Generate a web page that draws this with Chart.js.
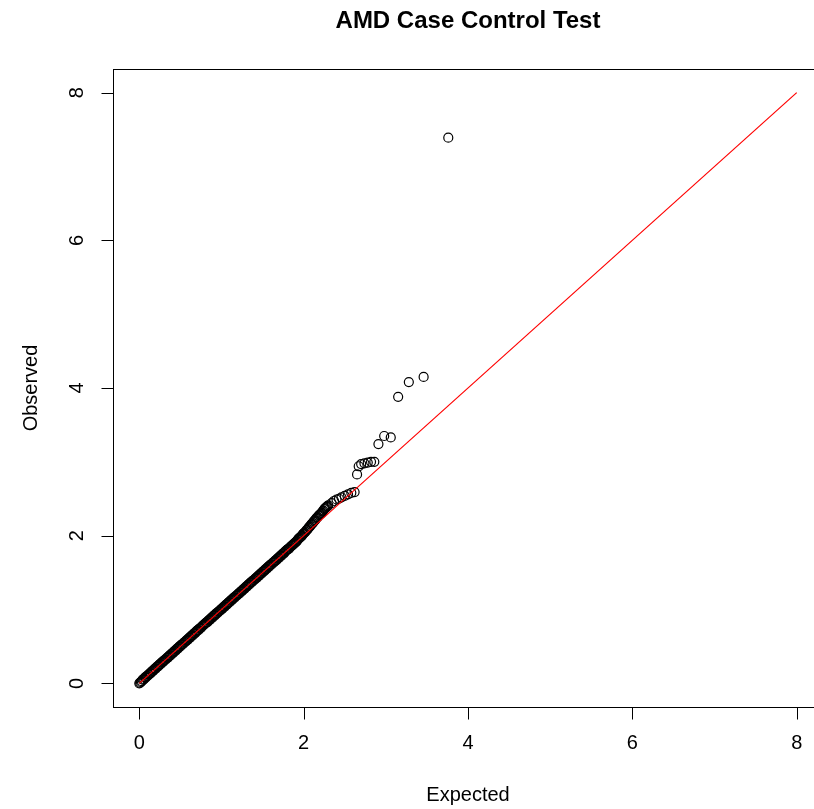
<!DOCTYPE html>
<html>
<head>
<meta charset="utf-8">
<script src="https://cdn.jsdelivr.net/npm/chart.js@4.4.0/dist/chart.umd.min.js"></script>
<style>
  html, body { margin: 0; padding: 0; background: #fff; overflow: hidden; }
  #wrap { width: 824px; height: 809px; }
</style>
</head>
<body>
<div id="wrap"><canvas id="qq" width="824" height="809"></canvas></div>
<script>
// QQ plot values (expected vs observed -log10 p)
const expected = [
  0.00, 0.01, 0.02, 0.03, 0.04, 0.05, 0.06, 0.07, 0.08, 0.09,
  0.10, 0.11, 0.12, 0.13, 0.14, 0.15, 0.16, 0.17, 0.18, 0.19,
  0.20, 0.21, 0.22, 0.23, 0.24, 0.25, 0.26, 0.27, 0.28, 0.29,
  0.30, 0.31, 0.32, 0.33, 0.34, 0.35, 0.36, 0.37, 0.38, 0.39,
  0.40, 0.41, 0.42, 0.43, 0.44, 0.45, 0.46, 0.47, 0.48, 0.49,
  0.50, 0.51, 0.52, 0.53, 0.54, 0.55, 0.56, 0.57, 0.58, 0.59,
  0.60, 0.61, 0.62, 0.63, 0.64, 0.65, 0.66, 0.67, 0.68, 0.69,
  0.70, 0.71, 0.72, 0.73, 0.74, 0.75, 0.76, 0.77, 0.78, 0.79,
  0.80, 0.81, 0.82, 0.83, 0.84, 0.85, 0.86, 0.87, 0.88, 0.89,
  0.90, 0.91, 0.92, 0.93, 0.94, 0.95, 0.96, 0.97, 0.98, 0.99,
  1.00, 1.01, 1.02, 1.03, 1.04, 1.05, 1.06, 1.07, 1.08, 1.09,
  1.10, 1.11, 1.12, 1.13, 1.14, 1.15, 1.16, 1.17, 1.18, 1.19,
  1.20, 1.21, 1.22, 1.23, 1.24, 1.25, 1.26, 1.27, 1.28, 1.29,
  1.30, 1.31, 1.32, 1.33, 1.34, 1.35, 1.36, 1.37, 1.38, 1.39,
  1.40, 1.41, 1.42, 1.43, 1.44, 1.45, 1.46, 1.47, 1.48, 1.49,
  1.50, 1.51, 1.52, 1.53, 1.54, 1.55, 1.56, 1.57, 1.58, 1.59,
  1.60, 1.61, 1.62, 1.63, 1.64, 1.65, 1.66, 1.67, 1.68, 1.69,
  1.70, 1.71, 1.72, 1.73, 1.74, 1.75, 1.76, 1.77, 1.78, 1.79,
  1.80, 1.81, 1.82, 1.83, 1.84, 1.85, 1.86, 1.87, 1.88, 1.89,
  1.90, 1.91, 1.92, 1.93, 1.94, 1.95, 1.96, 1.97, 1.98, 1.99,
  2.00, 2.01, 2.02, 2.03, 2.04, 2.05, 2.06, 2.07, 2.08, 2.09,
  2.10, 2.11, 2.12, 2.13, 2.14, 2.15, 2.16, 2.17, 2.18, 2.19,
  2.20, 2.21, 2.22, 2.23, 2.24, 2.25, 2.26, 2.27, 2.28, 2.29,
  2.30, 2.34, 2.37, 2.40, 2.43, 2.46, 2.50, 2.54, 2.58, 2.62,
  2.65, 2.67, 2.70, 2.74, 2.78, 2.82, 2.86, 2.91, 2.98, 3.06,
  3.15, 3.28, 3.46, 3.76
];
const observed = [
  0.00, 0.01, 0.02, 0.03, 0.05, 0.05, 0.06, 0.08, 0.08, 0.10,
  0.10, 0.12, 0.12, 0.14, 0.14, 0.16, 0.17, 0.17, 0.19, 0.20,
  0.20, 0.22, 0.23, 0.23, 0.25, 0.26, 0.26, 0.28, 0.29, 0.29,
  0.31, 0.32, 0.32, 0.34, 0.35, 0.35, 0.37, 0.38, 0.38, 0.40,
  0.41, 0.41, 0.43, 0.44, 0.44, 0.46, 0.47, 0.47, 0.49, 0.50,
  0.50, 0.52, 0.53, 0.53, 0.55, 0.56, 0.56, 0.58, 0.59, 0.59,
  0.61, 0.62, 0.62, 0.64, 0.65, 0.65, 0.67, 0.68, 0.68, 0.70,
  0.71, 0.72, 0.72, 0.74, 0.75, 0.75, 0.77, 0.78, 0.79, 0.80,
  0.81, 0.82, 0.83, 0.83, 0.85, 0.86, 0.86, 0.88, 0.89, 0.89,
  0.91, 0.92, 0.92, 0.94, 0.95, 0.95, 0.97, 0.98, 0.98, 1.00,
  1.01, 1.01, 1.03, 1.04, 1.04, 1.06, 1.07, 1.07, 1.09, 1.10,
  1.10, 1.12, 1.13, 1.13, 1.15, 1.16, 1.16, 1.18, 1.19, 1.19,
  1.21, 1.22, 1.22, 1.24, 1.25, 1.25, 1.27, 1.28, 1.28, 1.30,
  1.31, 1.31, 1.33, 1.34, 1.34, 1.36, 1.37, 1.37, 1.39, 1.40,
  1.40, 1.42, 1.43, 1.43, 1.45, 1.46, 1.46, 1.48, 1.49, 1.49,
  1.51, 1.52, 1.52, 1.54, 1.55, 1.55, 1.57, 1.58, 1.58, 1.60,
  1.61, 1.61, 1.63, 1.64, 1.64, 1.66, 1.67, 1.67, 1.69, 1.70,
  1.70, 1.72, 1.73, 1.73, 1.75, 1.76, 1.76, 1.78, 1.79, 1.80,
  1.81, 1.82, 1.82, 1.84, 1.85, 1.86, 1.87, 1.88, 1.89, 1.90,
  1.91, 1.92, 1.93, 1.95, 1.96, 1.97, 1.98, 1.99, 2.00, 2.02,
  2.03, 2.04, 2.05, 2.07, 2.08, 2.09, 2.11, 2.12, 2.13, 2.15,
  2.16, 2.17, 2.19, 2.20, 2.21, 2.23, 2.24, 2.25, 2.27, 2.28,
  2.29, 2.30, 2.31, 2.33, 2.34, 2.36, 2.37, 2.38, 2.39, 2.40,
  2.41, 2.44, 2.47, 2.49, 2.50, 2.52, 2.54, 2.56, 2.58, 2.59,
  2.83, 2.94, 2.97, 2.98, 2.99, 3.00, 3.00, 3.24, 3.35, 3.33,
  3.88, 4.08, 4.15, 7.39
];
const tickValues = [0, 2, 4, 6, 8];
const refLine = [0, 8];

const FONT = '"Liberation Sans", Arial, Helvetica, sans-serif';

const rStyleAxes = {
  id: 'rStyleAxes',
  afterDraw(chart) {
    const { ctx, chartArea: a, scales: { x, y } } = chart;
    ctx.save();
    ctx.strokeStyle = '#000';
    ctx.fillStyle = '#000';
    ctx.lineWidth = 1;

    // box
    ctx.strokeRect(Math.round(a.left) + 0.5, Math.round(a.top) + 0.5,
      Math.round(a.right - a.left), Math.round(a.bottom - a.top));

    // x axis
    const xb = Math.round(a.bottom) + 0.5;
    ctx.beginPath();
    ctx.moveTo(x.getPixelForValue(tickValues[0]), xb);
    ctx.lineTo(x.getPixelForValue(tickValues[tickValues.length - 1]), xb);
    tickValues.forEach(v => {
      const px = Math.round(x.getPixelForValue(v)) + 0.5;
      ctx.moveTo(px, xb);
      ctx.lineTo(px, xb + 12);
    });
    ctx.stroke();

    // y axis
    const yl = Math.round(a.left) + 0.5;
    ctx.beginPath();
    ctx.moveTo(yl, y.getPixelForValue(tickValues[0]));
    ctx.lineTo(yl, y.getPixelForValue(tickValues[tickValues.length - 1]));
    tickValues.forEach(v => {
      const py = Math.round(y.getPixelForValue(v)) + 0.5;
      ctx.moveTo(yl, py);
      ctx.lineTo(yl - 12, py);
    });
    ctx.stroke();

    ctx.font = '20px ' + FONT;
    ctx.textAlign = 'center';
    ctx.textBaseline = 'alphabetic';
    tickValues.forEach(v => {
      ctx.fillText(String(v), x.getPixelForValue(v), 749);
    });
    tickValues.forEach(v => {
      ctx.save();
      ctx.translate(83, y.getPixelForValue(v));
      ctx.rotate(-Math.PI / 2);
      ctx.fillText(String(v), 0, 0);
      ctx.restore();
    });

    // axis titles
    const cx = (a.left + a.right) / 2;
    ctx.fillText('Expected', cx, 801);
    ctx.save();
    ctx.translate(37, (a.top + a.bottom) / 2);
    ctx.rotate(-Math.PI / 2);
    ctx.fillText('Observed', 0, 0);
    ctx.restore();

    // main title
    ctx.font = 'bold 24px ' + FONT;
    ctx.fillText('AMD Case Control Test', cx, 28);
    ctx.restore();
  }
};

new Chart(document.getElementById('qq'), {
  type: 'scatter',
  data: {
    datasets: [
      {
        label: 'observed',
        data: expected.map((e, i) => ({ x: e, y: observed[i] })),
        order: 1,
        pointRadius: 4.5,
        pointBorderWidth: 1.2,
        pointBorderColor: '#000',
        pointBackgroundColor: 'rgba(0,0,0,0)',
        showLine: false
      },
      {
        label: 'y = x',
        type: 'line',
        data: refLine.map(v => ({ x: v, y: v })),
        order: 0,
        borderColor: '#ff0000',
        borderWidth: 1.2,
        pointRadius: 0,
        fill: false
      }
    ]
  },
  options: {
    responsive: false,
    animation: false,
    layout: { autoPadding: false, padding: { left: 113, top: 69, right: 1, bottom: 102 } },
    plugins: {
      legend: { display: false },
      tooltip: { enabled: false }
    },
    scales: {
      x: { type: 'linear', min: -0.32, max: 8.32, display: false },
      y: { type: 'linear', min: -0.32, max: 8.32, display: false }
    }
  },
  plugins: [rStyleAxes]
});
</script>
</body>
</html>
